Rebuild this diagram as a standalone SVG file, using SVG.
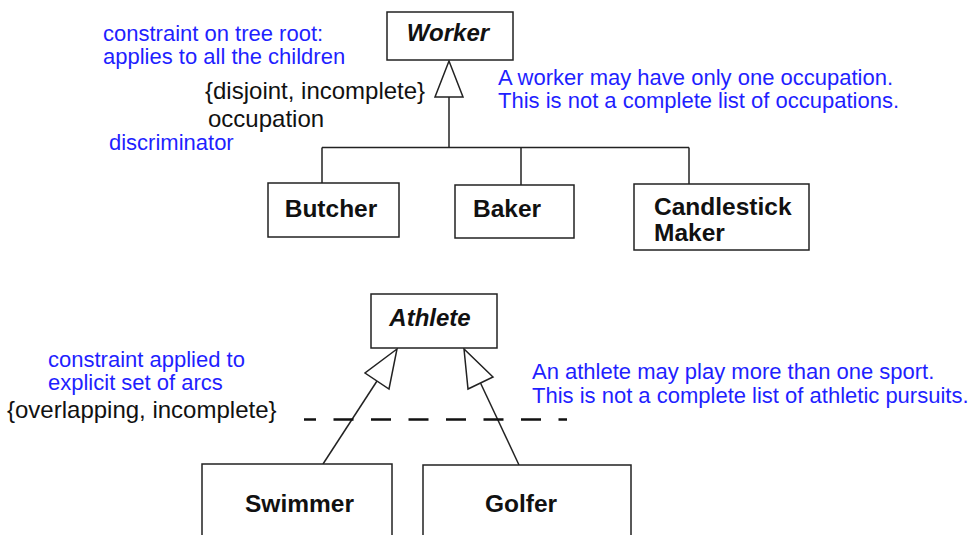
<svg xmlns="http://www.w3.org/2000/svg" width="968" height="535" viewBox="0 0 968 535">
<style>
  .box { fill: #fff; stroke: #222; stroke-width: 1.5; }
  .cls { font-family: "Liberation Sans", Arial, sans-serif; font-weight: bold; font-size: 24.5px; fill: #111; }
  .abs { font-family: "Liberation Sans", Arial, sans-serif; font-weight: bold; font-style: italic; font-size: 24px; fill: #111; }
  .lbl { font-family: "Liberation Sans", Arial, sans-serif; font-size: 24px; fill: #111; }
  .note { font-family: "Liberation Sans", Arial, sans-serif; font-size: 22px; fill: #1f1fff; }
  .ln { fill: none; stroke: #222; stroke-width: 1.5; }
  .tri { fill: #fff; stroke: #222; stroke-width: 1.5; stroke-linejoin: miter; }
  .dash { fill: none; stroke: #111; stroke-width: 2.6; stroke-dasharray: 20 17.5; stroke-dashoffset: 8; }
</style>
<rect width="968" height="535" fill="#fff"/>

<g id="connectors">
  <!-- Worker generalization tree -->
  <line class="ln" x1="449" y1="97" x2="449" y2="147.5"/>
  <line class="ln" x1="322" y1="147.5" x2="689" y2="147.5"/>
  <line class="ln" x1="322" y1="147.5" x2="322" y2="183"/>
  <line class="ln" x1="521" y1="147.5" x2="521" y2="185"/>
  <line class="ln" x1="689" y1="147.5" x2="689" y2="184"/>
  <polygon class="tri" points="449,61 435,97 463,97"/>
  <!-- Athlete generalizations -->
  <line class="ln" x1="323" y1="464" x2="377" y2="381"/>
  <polygon class="tri" points="397,349 365,373 389,389"/>
  <line class="ln" x1="519" y1="465" x2="480.5" y2="383"/>
  <polygon class="tri" points="464,349 468,389 493,377"/>
  <!-- constraint dashed line -->
  <line class="dash" x1="304" y1="419.5" x2="567" y2="419.5"/>
</g>

<g id="worker">
  <rect class="box" x="387" y="12" width="126" height="48"/>
  <text class="abs" x="448" y="41" text-anchor="middle">Worker</text>
</g>
<g id="butcher">
  <rect class="box" x="268" y="183" width="131" height="54"/>
  <text class="cls" x="331" y="217" text-anchor="middle">Butcher</text>
</g>
<g id="baker">
  <rect class="box" x="455" y="185" width="119" height="53"/>
  <text class="cls" x="507" y="217" text-anchor="middle">Baker</text>
</g>
<g id="candlestick-maker">
  <rect class="box" x="634" y="184" width="175" height="66"/>
  <text class="cls" x="654" y="215" font-size="24">Candlestick</text>
  <text class="cls" x="654" y="241" font-size="24">Maker</text>
</g>
<g id="athlete">
  <rect class="box" x="371" y="294" width="126" height="54"/>
  <text class="abs" x="430" y="326" text-anchor="middle">Athlete</text>
</g>
<g id="swimmer">
  <rect class="box" x="202" y="464" width="190" height="90"/>
  <text class="cls" x="299.5" y="512" text-anchor="middle" font-size="25">Swimmer</text>
</g>
<g id="golfer">
  <rect class="box" x="423" y="465" width="208" height="90"/>
  <text class="cls" x="521" y="512" text-anchor="middle" font-size="25">Golfer</text>
</g>

<g id="labels">
  <text class="lbl" x="205" y="99">{disjoint, incomplete}</text>
  <text class="lbl" x="208" y="127">occupation</text>
  <text class="lbl" x="7" y="418">{overlapping, incomplete}</text>
</g>

<g id="notes">
  <text class="note" x="103" y="41">constraint on tree root:</text>
  <text class="note" x="103" y="64">applies to all the children</text>
  <text class="note" x="109" y="150">discriminator</text>
  <text class="note" x="498" y="85">A worker may have only one occupation.</text>
  <text class="note" x="498" y="108">This is not a complete list of occupations.</text>
  <text class="note" x="48" y="367">constraint applied to</text>
  <text class="note" x="48" y="390">explicit set of arcs</text>
  <text class="note" x="532" y="379">An athlete may play more than one sport.</text>
  <text class="note" x="532" y="403">This is not a complete list of athletic pursuits.</text>
</g>
</svg>
